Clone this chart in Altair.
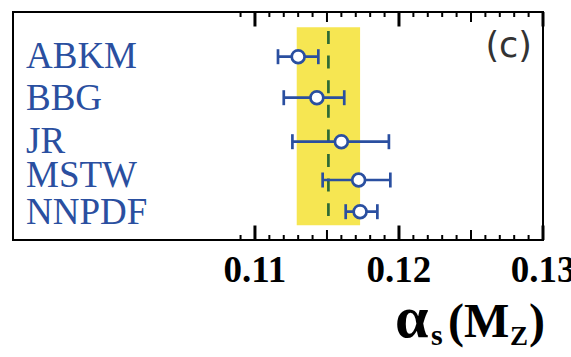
import altair as alt
import pandas as pd

# ---- data ----
groups = ["ABKM", "BBG", "JR", "MSTW", "NNPDF"]
alpha_s = [0.1130, 0.1143, 0.1160, 0.1172, 0.1173]
err_lo = [0.1116, 0.1120, 0.1126, 0.1147, 0.1163]
err_hi = [0.1144, 0.1162, 0.1193, 0.1194, 0.1185]
row_pos = [44.7, 85.7, 129.7, 168.0, 199.7]      # vertical row positions (0 = top of frame)
label_pos = [43.5, 85.8, 129.0, 163.0, 199.7]

world_avg = [0.1151]
world_lo = [0.1129]
world_hi = [0.1173]
band_rows = [15.3, 213.3]
dash_rows = [19.0, 204.0]

x_domain = [0.0932, 0.13]
major_ticks = [0.11, 0.12, 0.13]
mid_ticks = [0.115, 0.125]
minor_ticks = [0.109, 0.111, 0.112, 0.113, 0.114, 0.116, 0.117, 0.118, 0.119,
               0.121, 0.122, 0.123, 0.124, 0.126, 0.127, 0.128, 0.129]
tick_labels = ["0.11", "0.12", "0.13"]

# ---- styles ----
W, H = 530, 228
BLUE = "#2A4FA0"
YELLOW = "#F6E652"
GREEN = "#2D6A35"
SERIF = "Liberation Serif"

xs = alt.Scale(domain=x_domain, nice=False, zero=False)
ys = alt.Scale(domain=[0, H], reverse=True, nice=False, zero=False)

pts = pd.DataFrame({"name": groups, "v": alpha_s, "lo": err_lo, "hi": err_hi,
                    "row": row_pos, "lpos": label_pos})
one = pd.DataFrame({"a": [0]})

band = alt.Chart(pd.DataFrame({"lo": world_lo, "hi": world_hi,
                               "top": [band_rows[0]], "bottom": [band_rows[1]]})).mark_rect(
    color=YELLOW).encode(
    x=alt.X("lo:Q", scale=xs, axis=None), x2="hi:Q",
    y=alt.Y("top:Q", scale=ys, axis=None), y2="bottom:Q")

dash = alt.Chart(pd.DataFrame({"v": world_avg, "top": [dash_rows[0]],
                               "bottom": [dash_rows[1]]})).mark_rule(
    color=GREEN, strokeWidth=2.7, strokeDash=[13, 11.6]).encode(
    x=alt.X("v:Q", scale=xs, axis=None),
    y=alt.Y("top:Q", scale=ys, axis=None), y2="bottom:Q")

base = alt.Chart(pts)
err = base.mark_rule(color=BLUE, strokeWidth=2.7).encode(
    x=alt.X("lo:Q", scale=xs, axis=None), x2="hi:Q",
    y=alt.Y("row:Q", scale=ys, axis=None))
cap_lo = base.mark_tick(orient="vertical", size=15, thickness=2.7, color=BLUE, opacity=1).encode(
    x=alt.X("lo:Q", scale=xs, axis=None), y=alt.Y("row:Q", scale=ys, axis=None))
cap_hi = base.mark_tick(orient="vertical", size=15, thickness=2.7, color=BLUE, opacity=1).encode(
    x=alt.X("hi:Q", scale=xs, axis=None), y=alt.Y("row:Q", scale=ys, axis=None))
dots = base.mark_point(shape="circle", filled=True, fill="white", stroke=BLUE,
                       strokeWidth=2.7, size=165, opacity=1).encode(
    x=alt.X("v:Q", scale=xs, axis=None), y=alt.Y("row:Q", scale=ys, axis=None))
labels = base.mark_text(align="left", baseline="alphabetic", dy=12, font=SERIF,
                        fontSize=37, color=BLUE).encode(
    x=alt.value(13), y=alt.Y("lpos:Q", scale=ys, axis=None), text="name:N")


def ticks(values, length, width):
    d = alt.Chart(pd.DataFrame({"v": values}))
    top = d.mark_rule(color="black", strokeWidth=width).encode(
        x=alt.X("v:Q", scale=xs, axis=None), y=alt.value(0), y2=alt.value(length))
    bot = d.mark_rule(color="black", strokeWidth=width).encode(
        x=alt.X("v:Q", scale=xs, axis=None), y=alt.value(H), y2=alt.value(H - length))
    return [top, bot]


tick_layers = ticks(minor_ticks, 5, 2) + ticks(mid_ticks, 10, 2) + ticks(major_ticks, 14.5, 3)

tlabels = alt.Chart(pd.DataFrame({"v": major_ticks, "t": tick_labels})).mark_text(
    align="center", baseline="alphabetic", font=SERIF, fontWeight="bold",
    fontSize=37, color="black").encode(
    x=alt.X("v:Q", scale=xs, axis=None), y=alt.value(269.7), text="t:N")


def txt(s, x, y, size, **kw):
    return alt.Chart(one).mark_text(text=s, align="left", baseline="alphabetic",
                                    fontSize=size, **kw).encode(
        x=alt.value(x), y=alt.value(y))


title_parts = [
    txt("α", 382, 325, 60, font=SERIF, fontWeight="bold", color="black"),
    txt("s", 418, 333, 30, font=SERIF, fontWeight="bold", color="black"),
    txt("(M", 435, 325, 48, font=SERIF, fontWeight="bold", color="black"),
    txt("Z", 497, 333, 27, font=SERIF, fontWeight="bold", color="black"),
    txt(")", 516, 325, 48, font=SERIF, fontWeight="bold", color="black"),
]

panel = alt.Chart(one).mark_text(text="(c)", align="right", baseline="alphabetic",
                                 font="DejaVu Sans", fontSize=35, color="#333333").encode(
    x=alt.value(519), y=alt.value(44.5))

chart = alt.layer(
    band, dash, err, cap_lo, cap_hi, dots, labels, *tick_layers, tlabels, *title_parts, panel
).properties(
    width=W, height=H,
    padding={"left": 13, "top": 12, "right": 28, "bottom": 117},
    autosize=alt.AutoSizeParams(type="none"),
    background="white",
).configure_view(stroke="black", strokeWidth=2)

chart.save("out.html", embed_options={"renderer": "svg", "actions": False})
